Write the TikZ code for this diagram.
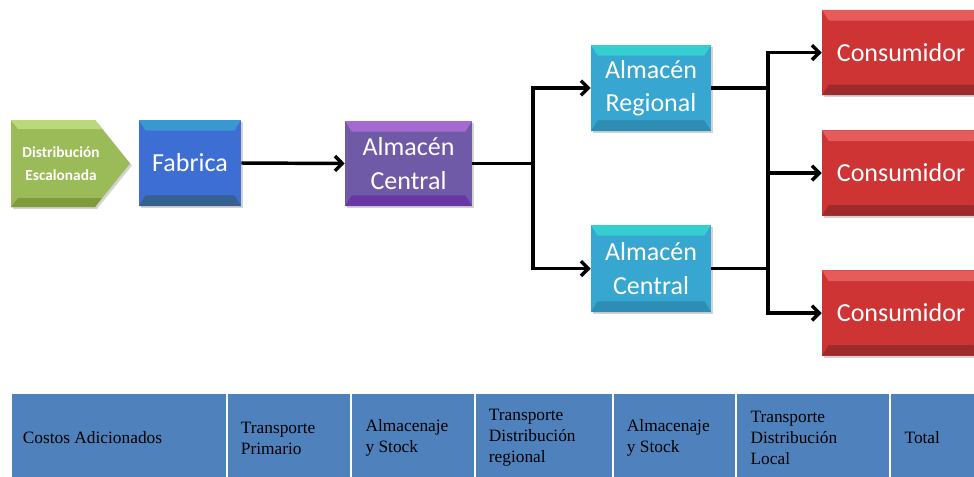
\documentclass[tikz,border=0pt]{standalone}
\usepackage{fontspec}
\setmainfont{Liberation Serif}
\newfontfamily\boxfont{Carlito}
\usetikzlibrary{arrows.meta,shadows}
\definecolor{grmain}{HTML}{9BBB59}
\definecolor{grtop}{HTML}{BAD97C}
\definecolor{grbot}{HTML}{7F9B3C}
\definecolor{fbmain}{HTML}{3D6ED4}
\definecolor{fbtop}{HTML}{3A98D0}
\definecolor{fbbot}{HTML}{36608F}
\definecolor{pumain}{HTML}{6E5AA6}
\definecolor{putop}{HTML}{A46AD0}
\definecolor{pubot}{HTML}{6A36A6}
\definecolor{cymain}{HTML}{37A6D0}
\definecolor{cytop}{HTML}{35CFD2}
\definecolor{cybot}{HTML}{2D8DB2}
\definecolor{rdmain}{HTML}{CF3434}
\definecolor{rdtop}{HTML}{E65C5C}
\definecolor{rdbot}{HTML}{9E2B2B}
\definecolor{tblue}{HTML}{4F81BD}
\begin{document}
\begin{tikzpicture}[x=0.75pt,y=-0.75pt]
\tikzset{
  boxtext/.style={inner sep=0pt, text=white, align=center,
    font=\boxfont\fontsize{19.5}{25}\selectfont},
  box/.style={boxtext, rectangle,
    drop shadow={shadow xshift=1.5pt, shadow yshift=-1.5pt, opacity=0.35}},
  bevel/.style n args={3}{fill=#1, path picture={
    \fill[#2] (path picture bounding box.north west) -- (path picture bounding box.north east)
      -- ([xshift=-5pt,yshift=-8pt]path picture bounding box.north east)
      -- ([xshift=5pt,yshift=-8pt]path picture bounding box.north west) -- cycle;
    \fill[#3] (path picture bounding box.south west) -- (path picture bounding box.south east)
      -- ([xshift=-5pt,yshift=8pt]path picture bounding box.south east)
      -- ([xshift=5pt,yshift=8pt]path picture bounding box.south west) -- cycle;}},
  conn/.style={line width=2.6pt, black},
  arr/.style={conn, -{Straight Barb[length=5.5pt,width=11pt]}},
  tcell/.style={rectangle, fill=tblue, draw=white, line width=1.5pt, anchor=north west,
    minimum height=67.5pt, inner sep=0pt},
  tlbl/.style={anchor=west, align=left, inner sep=0pt, text=black,
    font=\fontsize{13}{15.8}\selectfont}
}
\useasboundingbox (0,0) rectangle (974,476);

% Distribucion escalonada arrow
\fill[grmain, drop shadow={shadow xshift=1.5pt, shadow yshift=-1.5pt, opacity=0.35}]
  (11,120) -- (95,120) -- (130,163.5) -- (95,207) -- (11,207) -- cycle;
\fill[grtop] (11,120) -- (95,120) -- (102,129) -- (18,129) -- cycle;
\fill[grbot] (11,207) -- (95,207) -- (102,198) -- (18,198) -- cycle;
\node[boxtext, font=\boxfont\bfseries\fontsize{11.5}{17}\selectfont] (dist) at (61,164) {Distribución\\Escalonada};

% boxes
\node[box, bevel={fbmain}{fbtop}{fbbot}, minimum width=76.5pt, minimum height=64.5pt] (fab) at (190,163) {Fabrica};
\node[box, bevel={pumain}{putop}{pubot}, minimum width=95.25pt, minimum height=63.75pt] (ac) at (408.5,163.5) {Almacén\\Central};
\node[box, bevel={cymain}{cytop}{cybot}, minimum width=90pt, minimum height=64.5pt] (ar) at (651,88) {Almacén\\Regional};
\node[box, bevel={cymain}{cytop}{cybot}, minimum width=90pt, minimum height=65.25pt] (ac2) at (651,268.5) {Almacén\\Central};
\node[box, bevel={rdmain}{rdtop}{rdbot}, minimum width=118.5pt, minimum height=64pt] (c1) at (901,52.5) {Consumidor};
\node[box, bevel={rdmain}{rdtop}{rdbot}, minimum width=118.5pt, minimum height=64pt] (c2) at (901,173) {Consumidor};
\node[box, bevel={rdmain}{rdtop}{rdbot}, minimum width=118.5pt, minimum height=64pt] (c3) at (901,313) {Consumidor};

% connectors
\coordinate (jx) at (533,0);
\coordinate (bus) at (768,0);
\draw[arr] (fab.east) -- (ac.west);
\draw[arr] (ac.east) -- (ac.east -| jx) |- (ar.west);
\draw[arr] (ac.east -| jx) |- (ac2.west);
\draw[conn] (ar.east) -- (ar.east -| bus);
\draw[conn] (ac2.east) -- (ac2.east -| bus);
\draw[arr] (c3.west -| bus) |- (c1.west);
\draw[arr] (c1.west -| bus) |- (c3.west);
\draw[arr] (c2.west -| bus) -- (c2.west);

% table
\node[tcell, minimum width=162pt] (k1) at (10,392) {};
\node[tcell, minimum width=93pt] (k2) at (226,392) {};
\node[tcell, minimum width=93pt] (k3) at (350,392) {};
\node[tcell, minimum width=103.5pt] (k4) at (474,392) {};
\node[tcell, minimum width=92.25pt] (k5) at (612,392) {};
\node[tcell, minimum width=115.5pt] (k6) at (735,392) {};
\node[tcell, minimum width=68.25pt] (k7) at (889,392) {};
\node[tlbl] (l1) at ([xshift=9.5pt]k1.west) {Costos Adicionados};
\node[tlbl] (l2) at ([xshift=11pt]k2.west) {Transporte\\Primario};
\node[tlbl] (l3) at ([xshift=11.5pt]k3.west) {Almacenaje\\y Stock};
\node[tlbl] (l4) at ([xshift=11pt]k4.west) {Transporte\\Distribución\\regional};
\node[tlbl] (l5) at ([xshift=11pt]k5.west) {Almacenaje\\y Stock};
\node[tlbl] (l6) at ([xshift=11.5pt]k6.west) {Transporte\\Distribución\\Local};
\node[tlbl] (l7) at ([xshift=11.5pt]k7.west) {Total};
\end{tikzpicture}
\end{document}
